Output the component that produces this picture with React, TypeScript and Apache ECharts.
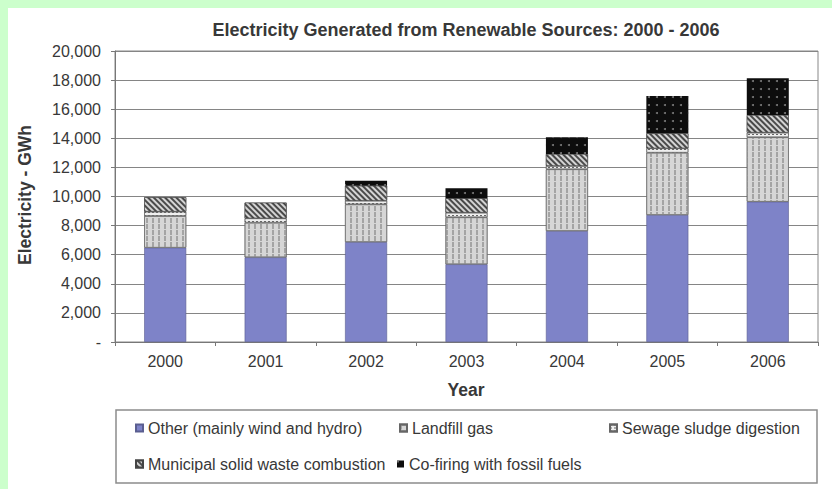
import React, { useEffect, useRef } from "react";
import * as echarts from "echarts";

const years = ["2000", "2001", "2002", "2003", "2004", "2005", "2006"];
const otherWindHydro = [6480, 5820, 6870, 5340, 7630, 8730, 9640];
const landfillGas = [2180, 2380, 2590, 3230, 4240, 4280, 4430];
const sewageSludge = [300, 300, 250, 320, 230, 300, 320];
const municipalWaste = [990, 1080, 1030, 990, 820, 1030, 1210];
const coFiring = [0, 0, 350, 690, 1150, 2570, 2520];

const seriesNames = [
  "Other (mainly wind and hydro)",
  "Landfill gas",
  "Sewage sludge digestion",
  "Municipal solid waste combustion",
  "Co-firing with fossil fuels",
];

const FONT = "'Liberation Sans', Arial, sans-serif";
const TXT = "#383838";

export default function App() {
  const ref = useRef<HTMLDivElement>(null);

  useEffect(() => {
    document.body.style.margin = "0";
    if (!ref.current) return;
    const chart = echarts.init(ref.current, null, { renderer: "svg" });

    const barBase = {
      type: "bar",
      stack: "total",
      barWidth: 42,
      emphasis: { disabled: true },
    };

    const legendCommon = {
      orient: "horizontal",
      padding: 0,
      itemWidth: 7,
      itemHeight: 7,
      icon: "rect",
      selectedMode: false,
      textStyle: { fontFamily: FONT, fontSize: 16, color: TXT },
    };

    chart.setOption({
      animation: false,
      backgroundColor: "#ffffff",
      textStyle: { fontFamily: FONT },
      grid: {
        left: 107,
        top: 43,
        right: 14,
        bottom: 147,
        show: true,
        borderColor: "#888888",
        borderWidth: 1,
      },
      xAxis: {
        type: "category",
        data: years,
        axisLine: { lineStyle: { color: "#777777", width: 1 } },
        axisTick: { show: true, length: 4, lineStyle: { color: "#777777" } },
        axisLabel: { fontFamily: FONT, fontSize: 16, color: TXT, margin: 11 },
      },
      yAxis: {
        type: "value",
        min: 0,
        max: 20000,
        interval: 2000,
        axisLine: { show: true, lineStyle: { color: "#777777", width: 1 } },
        axisTick: { show: true, length: 4, lineStyle: { color: "#777777" } },
        splitLine: { lineStyle: { color: "#858585", width: 1 } },
        axisLabel: {
          fontFamily: FONT,
          fontSize: 16,
          color: TXT,
          margin: 14,
          formatter: (v: number) => (v === 0 ? "-" : v.toLocaleString("en-US")),
        },
      },
      legend: [
        { ...legendCommon, data: [seriesNames[0]], left: 127, top: 412 },
        { ...legendCommon, data: [seriesNames[1]], left: 391, top: 412 },
        { ...legendCommon, data: [seriesNames[2]], left: 601, top: 412 },
        { ...legendCommon, data: [seriesNames[3]], left: 127, top: 448 },
        { ...legendCommon, data: [seriesNames[4]], left: 389, top: 448 },
      ],
      graphic: [
        {
          type: "text",
          x: 458,
          y: 22,
          style: {
            text: "Electricity Generated from Renewable Sources: 2000 - 2006",
            fontFamily: FONT,
            fontWeight: "bold",
            fontSize: 18,
            fill: TXT,
            textAlign: "center",
            textVerticalAlign: "middle",
          },
        },
        {
          type: "text",
          x: 17,
          y: 187,
          rotation: Math.PI / 2,
          style: {
            text: "Electricity - GWh",
            fontFamily: FONT,
            fontWeight: "bold",
            fontSize: 17.5,
            fill: TXT,
            textAlign: "center",
            textVerticalAlign: "middle",
          },
        },
        {
          type: "text",
          x: 458,
          y: 382,
          style: {
            text: "Year",
            fontFamily: FONT,
            fontWeight: "bold",
            fontSize: 17.5,
            fill: TXT,
            textAlign: "center",
            textVerticalAlign: "middle",
          },
        },
        {
          type: "rect",
          shape: { x: 108, y: 402, width: 701, height: 73 },
          style: { fill: "none", stroke: "#8c8c8c", lineWidth: 1.5 },
          silent: true,
        },
      ],
      series: [
        {
          ...barBase,
          name: seriesNames[0],
          data: otherWindHydro,
          itemStyle: { color: "#7e83c8", borderColor: "#5a5e90", borderWidth: 0.6 },
        },
        {
          ...barBase,
          name: seriesNames[1],
          data: landfillGas,
          itemStyle: {
            color: "#d6d6d6",
            borderColor: "#666666",
            borderWidth: 0.6,
            decal: {
              symbol: "rect",
              symbolSize: 1,
              color: "#a4a4a4",
              dashArrayX: [1.5, 3.5],
              dashArrayY: [5, 1],
            },
          },
        },
        {
          ...barBase,
          name: seriesNames[2],
          data: sewageSludge,
          itemStyle: {
            color: "#efefef",
            borderColor: "#666666",
            borderWidth: 0.6,
            decal: {
              symbol: "rect",
              symbolSize: 1,
              color: "#666666",
              dashArrayX: [2, 2],
              dashArrayY: [1, 2],
            },
          },
        },
        {
          ...barBase,
          name: seriesNames[3],
          data: municipalWaste,
          itemStyle: {
            color: "#4a4a4a",
            borderColor: "#444444",
            borderWidth: 0.6,
            decal: {
              symbol: "rect",
              symbolSize: 1,
              color: "#d4d4d4",
              dashArrayX: [1, 0],
              dashArrayY: [1.2, 2],
              rotation: Math.PI / 4,
            },
          },
        },
        {
          ...barBase,
          name: seriesNames[4],
          data: coFiring,
          itemStyle: {
            color: "#0d0d0d",
            borderWidth: 0,
            decal: {
              symbol: "circle",
              symbolSize: 1,
              color: "#7a7a7a",
              dashArrayX: [2, 6],
              dashArrayY: [2, 6],
            },
          },
        },
      ],
    });

    return () => chart.dispose();
  }, []);

  return (
    <div style={{ width: 832, height: 489, background: "#ccffcc", position: "relative" }}>
      <div
        ref={ref}
        style={{ position: "absolute", left: 8, top: 8, width: 824, height: 481, background: "#ffffff" }}
      />
    </div>
  );
}
